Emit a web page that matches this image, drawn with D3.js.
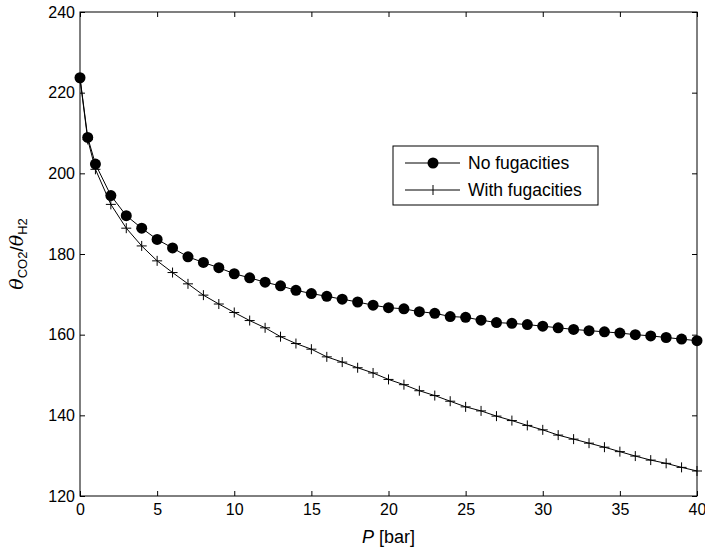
<!DOCTYPE html>
<html>
<head>
<meta charset="utf-8">
<script src="https://cdn.jsdelivr.net/npm/d3@7"></script>
<style>
  body { margin: 0; background: #fff; }
  text { font-family: "Liberation Sans", Arial, sans-serif; fill: #000; }
</style>
</head>
<body>
<script>
// pressure points [bar]
const pressure = [0, 0.5, 1, 2, 3, 4, 5, 6, 7, 8, 9, 10, 11, 12, 13, 14, 15, 16, 17, 18, 19, 20,
  21, 22, 23, 24, 25, 26, 27, 28, 29, 30, 31, 32, 33, 34, 35, 36, 37, 38, 39, 40];

// selectivity, no fugacities
const noFug = [223.7, 208.9, 202.3, 194.5, 189.5, 186.4, 183.6, 181.5, 179.3, 177.9, 176.6, 175.1,
  174.1, 173.0, 172.1, 171.0, 170.2, 169.5, 168.8, 168.1, 167.3, 166.7, 166.4, 165.7, 165.3, 164.5,
  164.3, 163.6, 163.0, 162.8, 162.5, 162.1, 161.7, 161.3, 161.0, 160.7, 160.4, 160.0, 159.7, 159.3,
  158.9, 158.5];

// selectivity, with fugacities
const withFug = [223.5, 208.4, 201.0, 192.3, 186.4, 182.0, 178.3, 175.4, 172.6, 169.8, 167.6, 165.5,
  163.5, 161.7, 159.5, 157.8, 156.4, 154.5, 153.2, 151.8, 150.5, 148.9, 147.6, 146.1, 144.9, 143.5,
  142.1, 141.1, 139.8, 138.7, 137.5, 136.4, 135.1, 134.1, 133.1, 132.1, 131.0, 129.9, 128.9, 128.1,
  127.1, 126.2];

const xTicks = [0, 5, 10, 15, 20, 25, 30, 35, 40];
const yTicks = [120, 140, 160, 180, 200, 220, 240];
const seriesNames = ["No fugacities", "With fugacities"];

const W = 705, H = 552;
const margin = {top: 12, right: 8, bottom: 56, left: 80};
const width = W - margin.left - margin.right,
      height = H - margin.top - margin.bottom;

const svg = d3.select("body").append("svg")
    .attr("width", W)
    .attr("height", H);

const g = svg.append("g")
    .attr("transform", "translate(" + margin.left + "," + margin.top + ")");

const x = d3.scaleLinear().domain([0, 40]).range([0, width]);
const y = d3.scaleLinear().domain([120, 240]).range([height, 0]);

// axes, matlab style: ticks pointing inward on all four sides
const tickLen = 5;
g.append("g")
    .attr("transform", "translate(0," + height + ")")
    .call(d3.axisBottom(x).tickValues(xTicks).tickSizeInner(-tickLen).tickSizeOuter(0).tickPadding(8))
    .call(a => a.select(".domain").remove());
g.append("g")
    .call(d3.axisTop(x).tickValues(xTicks).tickSizeInner(-tickLen).tickSizeOuter(0).tickFormat(""))
    .call(a => a.select(".domain").remove());
g.append("g")
    .call(d3.axisLeft(y).tickValues(yTicks).tickSizeInner(-tickLen).tickSizeOuter(0).tickPadding(5))
    .call(a => a.select(".domain").remove());
g.append("g")
    .attr("transform", "translate(" + width + ",0)")
    .call(d3.axisRight(y).tickValues(yTicks).tickSizeInner(-tickLen).tickSizeOuter(0).tickFormat(""))
    .call(a => a.select(".domain").remove());

g.selectAll(".tick text").style("font-size", "16px").style("font-family", "Liberation Sans, Arial, sans-serif");
g.selectAll(".tick line").attr("stroke", "#000");

g.append("rect")
    .attr("width", width).attr("height", height)
    .attr("fill", "none").attr("stroke", "#000").attr("stroke-width", 1);

const line = d3.line()
    .x((d, i) => x(pressure[i]))
    .y(d => y(d));

// series 1: circles
g.append("path").datum(noFug)
    .attr("d", line).attr("fill", "none").attr("stroke", "#000").attr("stroke-width", 1);
g.selectAll(".dot").data(noFug).enter().append("circle")
    .attr("class", "dot")
    .attr("cx", (d, i) => x(pressure[i]))
    .attr("cy", d => y(d))
    .attr("r", 5.5)
    .attr("fill", "#000");

// series 2: plus markers
g.append("path").datum(withFug)
    .attr("d", line).attr("fill", "none").attr("stroke", "#000").attr("stroke-width", 1);
g.selectAll(".plus").data(withFug).enter().append("path")
    .attr("class", "plus")
    .attr("transform", (d, i) => "translate(" + x(pressure[i]) + "," + y(d) + ")")
    .attr("d", "M-5,0H5M0,-5V5")
    .attr("stroke", "#000").attr("stroke-width", 1).attr("fill", "none");

// legend
const leg = svg.append("g").attr("transform", "translate(393,146)");
leg.append("rect").attr("width", 205).attr("height", 59)
    .attr("fill", "#fff").attr("stroke", "#000").attr("stroke-width", 1);
seriesNames.forEach((name, i) => {
  const ly = 17 + i * 27;
  leg.append("line").attr("x1", 12).attr("x2", 67).attr("y1", ly).attr("y2", ly)
      .attr("stroke", "#000").attr("stroke-width", 1);
  if (i === 0) {
    leg.append("circle").attr("cx", 40).attr("cy", ly).attr("r", 5.5).attr("fill", "#000");
  } else {
    leg.append("path").attr("transform", "translate(40," + ly + ")")
        .attr("d", "M0,-5V5").attr("stroke", "#000").attr("stroke-width", 1);
  }
  leg.append("text").attr("x", 75).attr("y", ly + 6)
      .style("font-size", "17.5px").text(name);
});

// axis labels
const xl = svg.append("text")
    .attr("x", margin.left + width / 2).attr("y", 543)
    .attr("text-anchor", "middle").style("font-size", "18px");
xl.append("tspan").style("font-style", "italic").text("P");
xl.append("tspan").text(" [bar]");

const yl = svg.append("text")
    .attr("transform", "translate(23," + (margin.top + height / 2) + ") rotate(-90)")
    .attr("text-anchor", "middle").style("font-size", "19px");
yl.append("tspan").style("font-style", "italic").style("font-family", "DejaVu Serif, serif").text("θ");
yl.append("tspan").attr("dy", 4).style("font-size", "13px").text("CO2");
yl.append("tspan").attr("dy", -4).text("/");
yl.append("tspan").style("font-style", "italic").style("font-family", "DejaVu Serif, serif").text("θ");
yl.append("tspan").attr("dy", 4).style("font-size", "13px").text("H2");
</script>
</body>
</html>
